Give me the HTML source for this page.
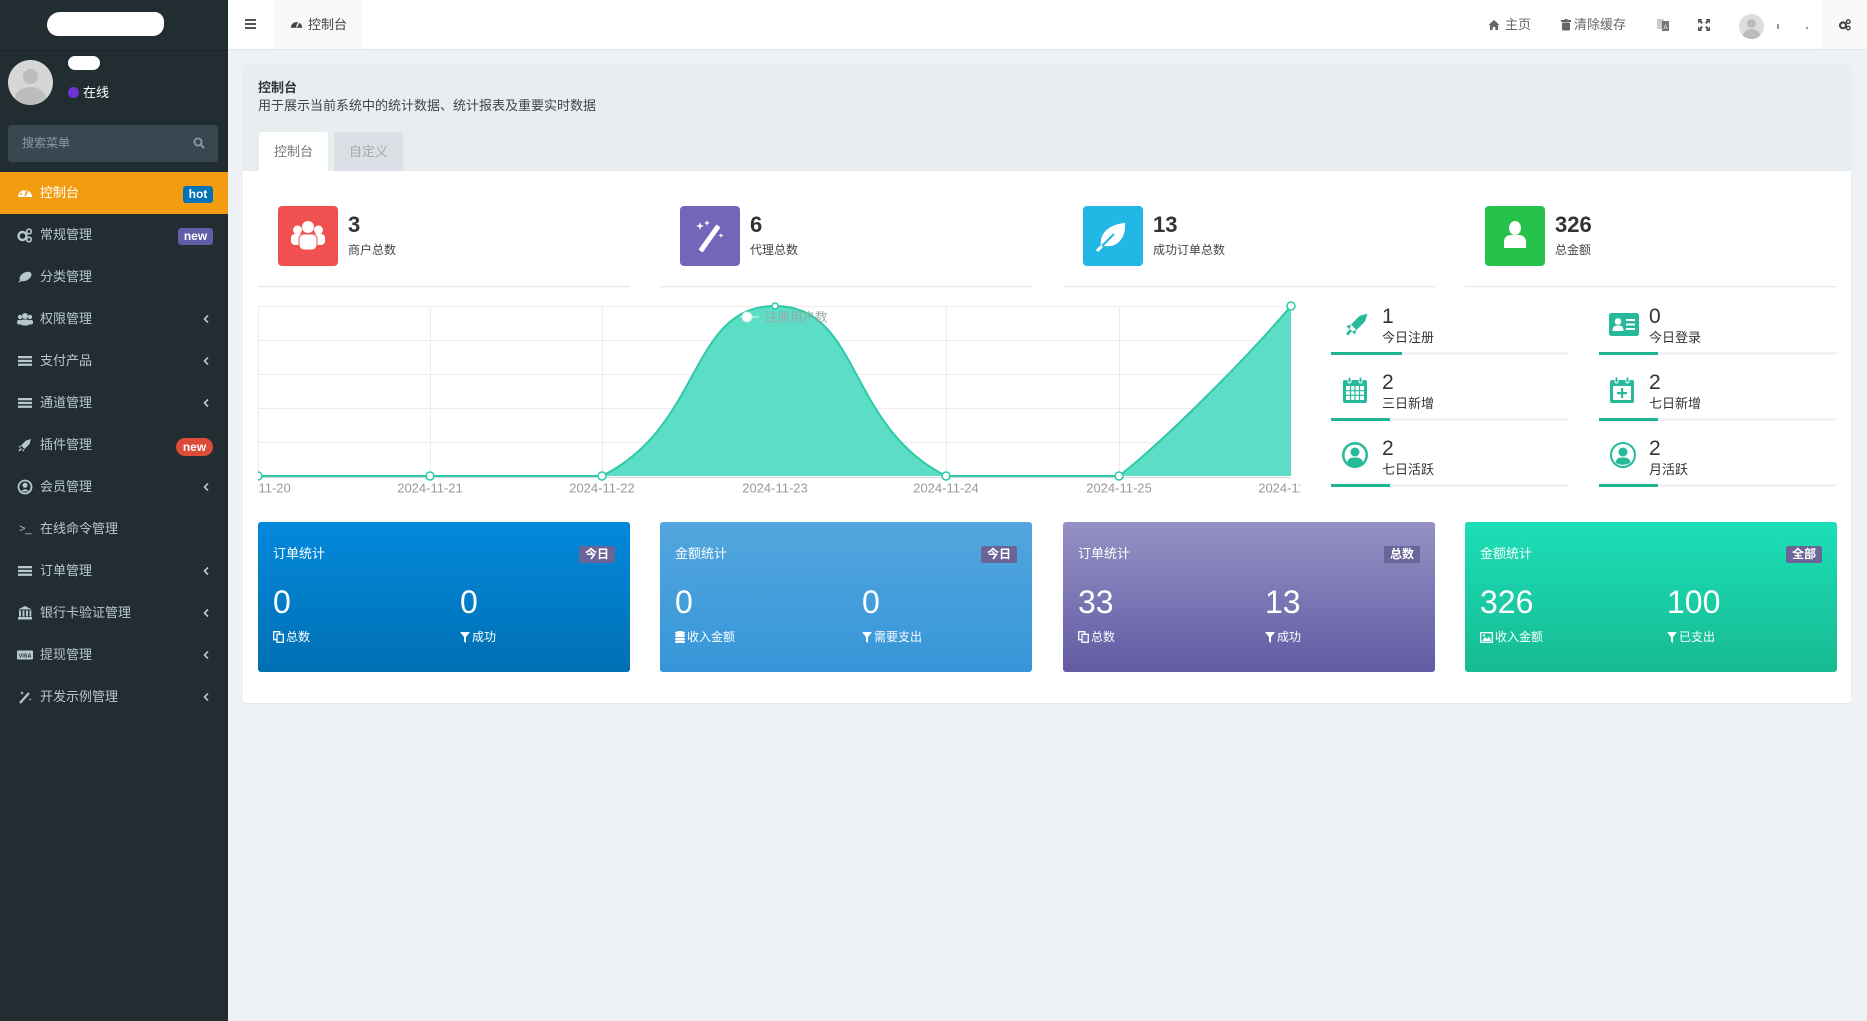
<!DOCTYPE html>
<html lang="zh"><head><meta charset="utf-8"><title>控制台</title>
<style>
*{margin:0;padding:0;box-sizing:border-box}
html,body{width:1867px;height:1021px;overflow:hidden}
body{background:#eef1f5;font-family:"Liberation Sans","Noto Sans CJK SC",sans-serif;position:relative;color:#333}
.a{position:absolute}
.t{position:absolute;white-space:nowrap}
.mi{position:absolute;left:40px;height:42px;line-height:42px;font-size:13px;color:#b8c7ce;white-space:nowrap}
.ic{position:absolute;left:17px;width:16px;height:16px}
.chev{position:absolute;left:202px;width:8px;height:10px}
.bdg{position:absolute;height:17px;line-height:17px;font-size:12px;font-weight:bold;color:#fff;text-align:center;border-radius:3px}
.sbox{position:absolute;top:206px;width:60px;height:60px;border-radius:4px}
.snum{position:absolute;top:210px;line-height:30px;font-size:22px;font-weight:bold;color:#333}
.slab{position:absolute;top:240px;line-height:20px;font-size:12px;color:#444;white-space:nowrap}
.sline{position:absolute;top:286px;width:372px;height:1px;background:#e8e8e8;box-shadow:0 1px 1px rgba(0,0,0,0.04)}
.rn{position:absolute;line-height:26px;font-size:21px;color:#333}
.rl{position:absolute;line-height:20px;font-size:13px;color:#333;white-space:nowrap}
.trk{position:absolute;height:3px;background:#f3f3f3;width:238px}
.trk i{display:block;height:3px;background:#1fb592}
.card{position:absolute;top:522px;width:372px;height:150px;border-radius:3px;color:#fff}
.card .ct{position:absolute;left:15px;top:22px;line-height:20px;font-size:13px;white-space:nowrap}
.card .cb{position:absolute;right:15px;top:24px;width:36px;height:17px;line-height:17px;font-size:12px;font-weight:bold;text-align:center;background:#696598;border-radius:2px}
.card .cn{position:absolute;top:60px;line-height:40px;font-size:32px;font-weight:300}
.card .cl{position:absolute;top:105px;line-height:20px;font-size:12px;white-space:nowrap}
.card .cl svg{vertical-align:-2px;margin-right:2px}
.hdr{position:absolute;top:0;line-height:50px;font-size:13px;color:#666;white-space:nowrap}
</style></head><body>

<!-- Sidebar -->
<div class="a" style="left:0;top:0;width:228px;height:1021px;background:#222d32"></div>
<div class="a" style="left:0;top:50px;width:228px;height:1px;background:#1b2428"></div>
<div class="a" style="left:47px;top:12px;width:117px;height:24px;background:#fff;border-radius:14px 10px 12px 12px"></div>
<!-- user panel -->
<div class="a" style="left:8px;top:60px;width:45px;height:45px;border-radius:50%;background:#d6d6d6;overflow:hidden">
  <div class="a" style="left:15px;top:9px;width:15px;height:15px;border-radius:50%;background:#bdbdbd"></div>
  <div class="a" style="left:7px;top:27px;width:31px;height:22px;border-radius:50%;background:#bdbdbd"></div>
</div>
<div class="a" style="left:68px;top:56px;width:32px;height:14px;background:#fff;border-radius:7px"></div>
<div class="a" style="left:68px;top:87px;width:11px;height:11px;border-radius:50%;background:#6f35d3"></div>
<div class="t" style="left:83px;top:83px;line-height:20px;font-size:13px;color:#fff">在线</div>
<!-- search -->
<div class="a" style="left:8px;top:125px;width:210px;height:37px;background:#374850;border-radius:3px"></div>
<div class="t" style="left:22px;top:133px;line-height:20px;font-size:12px;color:#8b9ba3">搜索菜单</div>
<svg class="a" style="left:193px;top:137px" width="12" height="12" viewBox="0 0 12 12"><circle cx="5" cy="5" r="3.6" fill="none" stroke="#8b9ba3" stroke-width="1.8"/><line x1="7.6" y1="7.6" x2="11" y2="11" stroke="#8b9ba3" stroke-width="2"/></svg>

<!-- menu -->
<div class="a" style="left:0;top:172px;width:228px;height:42px;background:#f39c12"></div>

<!-- 0 控制台 -->
<svg class="ic" style="top:185px" viewBox="0 0 16 16"><path d="M1 12 A7 7 0 1 1 15 12 Z" fill="#fff"/><line x1="8" y1="11" x2="11" y2="5" stroke="#f39c12" stroke-width="1.6"/><circle cx="4" cy="9" r="1" fill="#f39c12"/><circle cx="8" cy="5" r="1" fill="#f39c12"/></svg>
<div class="mi" style="top:172px;color:#fff">控制台</div>
<div class="bdg" style="left:183px;top:186px;width:30px;background:#0073b7">hot</div>

<!-- 1 常规管理 -->
<svg class="ic" style="top:227px" viewBox="0 0 16 16"><circle cx="5.5" cy="9" r="4" fill="none" stroke="#b8c7ce" stroke-width="2.4"/><circle cx="12" cy="4.5" r="2.3" fill="none" stroke="#b8c7ce" stroke-width="1.6"/><circle cx="12" cy="12.5" r="2.3" fill="none" stroke="#b8c7ce" stroke-width="1.6"/></svg>
<div class="mi" style="top:214px">常规管理</div>
<div class="bdg" style="left:178px;top:228px;width:35px;background:#605ca8">new</div>

<!-- 2 分类管理 -->
<svg class="ic" style="top:269px" viewBox="0 0 16 16"><ellipse cx="8.5" cy="7.5" rx="6.5" ry="4" transform="rotate(-30 8.5 7.5)" fill="#b8c7ce"/><line x1="2" y1="13" x2="8" y2="8" stroke="#b8c7ce" stroke-width="1.3"/></svg>
<div class="mi" style="top:256px">分类管理</div>

<!-- 3 权限管理 -->
<svg class="ic" style="top:311px" viewBox="0 0 16 16"><circle cx="8" cy="5" r="3" fill="#b8c7ce"/><circle cx="3" cy="6" r="2.2" fill="#b8c7ce"/><circle cx="13" cy="6" r="2.2" fill="#b8c7ce"/><rect x="3.5" y="8.5" width="9" height="6" rx="2.5" fill="#b8c7ce"/><rect x="0" y="9" width="5" height="4.5" rx="2" fill="#b8c7ce"/><rect x="11" y="9" width="5" height="4.5" rx="2" fill="#b8c7ce"/></svg>
<div class="mi" style="top:298px">权限管理</div>
<svg class="chev" style="top:314px" viewBox="0 0 8 10"><polyline points="6,1.5 2.5,5 6,8.5" fill="none" stroke="#b8c7ce" stroke-width="1.6"/></svg>

<!-- 4 支付产品 -->
<svg class="ic" style="top:353px" viewBox="0 0 16 16"><rect x="1" y="3" width="14" height="2.3" fill="#b8c7ce"/><rect x="1" y="6.8" width="14" height="2.3" fill="#b8c7ce"/><rect x="1" y="10.6" width="14" height="2.3" fill="#b8c7ce"/></svg>
<div class="mi" style="top:340px">支付产品</div>
<svg class="chev" style="top:356px" viewBox="0 0 8 10"><polyline points="6,1.5 2.5,5 6,8.5" fill="none" stroke="#b8c7ce" stroke-width="1.6"/></svg>

<!-- 5 通道管理 -->
<svg class="ic" style="top:395px" viewBox="0 0 16 16"><rect x="1" y="3" width="14" height="2.3" fill="#b8c7ce"/><rect x="1" y="6.8" width="14" height="2.3" fill="#b8c7ce"/><rect x="1" y="10.6" width="14" height="2.3" fill="#b8c7ce"/></svg>
<div class="mi" style="top:382px">通道管理</div>
<svg class="chev" style="top:398px" viewBox="0 0 8 10"><polyline points="6,1.5 2.5,5 6,8.5" fill="none" stroke="#b8c7ce" stroke-width="1.6"/></svg>

<!-- 6 插件管理 -->
<svg class="ic" style="top:437px" viewBox="0 0 16 16"><path d="M14 2 L9 3.5 L4 8.5 L7.5 12 L12.5 7 Z" fill="#b8c7ce"/><path d="M4 8.5 L1.5 9.5 L3 11 Z M7.5 12 L6.5 14.5 L5 13 Z" fill="#b8c7ce"/><path d="M4.5 11.5 L2 14" stroke="#b8c7ce" stroke-width="1.5"/></svg>
<div class="mi" style="top:424px">插件管理</div>
<div class="bdg" style="left:176px;top:438px;width:37px;height:18px;line-height:18px;background:#dd4b39;border-radius:9px">new</div>

<!-- 7 会员管理 -->
<svg class="ic" style="top:479px" viewBox="0 0 16 16"><circle cx="8" cy="8" r="6.5" fill="none" stroke="#b8c7ce" stroke-width="1.8"/><circle cx="8" cy="6.3" r="2.5" fill="#b8c7ce"/><path d="M3.8 12.5 Q8 8 12.2 12.5" fill="#b8c7ce"/></svg>
<div class="mi" style="top:466px">会员管理</div>
<svg class="chev" style="top:482px" viewBox="0 0 8 10"><polyline points="6,1.5 2.5,5 6,8.5" fill="none" stroke="#b8c7ce" stroke-width="1.6"/></svg>

<!-- 8 在线命令管理 -->
<div class="t" style="left:19px;top:508px;line-height:42px;font-size:11px;color:#b8c7ce">&gt;_</div>
<div class="mi" style="top:508px">在线命令管理</div>

<!-- 9 订单管理 -->
<svg class="ic" style="top:563px" viewBox="0 0 16 16"><rect x="1" y="3" width="14" height="2.3" fill="#b8c7ce"/><rect x="1" y="6.8" width="14" height="2.3" fill="#b8c7ce"/><rect x="1" y="10.6" width="14" height="2.3" fill="#b8c7ce"/></svg>
<div class="mi" style="top:550px">订单管理</div>
<svg class="chev" style="top:566px" viewBox="0 0 8 10"><polyline points="6,1.5 2.5,5 6,8.5" fill="none" stroke="#b8c7ce" stroke-width="1.6"/></svg>

<!-- 10 银行卡验证管理 -->
<svg class="ic" style="top:605px" viewBox="0 0 16 16"><path d="M8 1 L15 4.5 L1 4.5 Z" fill="#b8c7ce"/><rect x="2" y="5.5" width="2" height="6" fill="#b8c7ce"/><rect x="5.5" y="5.5" width="2" height="6" fill="#b8c7ce"/><rect x="9" y="5.5" width="2" height="6" fill="#b8c7ce"/><rect x="12.5" y="5.5" width="1.8" height="6" fill="#b8c7ce"/><rect x="1" y="12" width="14" height="2.5" fill="#b8c7ce"/></svg>
<div class="mi" style="top:592px">银行卡验证管理</div>
<svg class="chev" style="top:608px" viewBox="0 0 8 10"><polyline points="6,1.5 2.5,5 6,8.5" fill="none" stroke="#b8c7ce" stroke-width="1.6"/></svg>

<!-- 11 提现管理 -->
<svg class="ic" style="top:647px" viewBox="0 0 16 16"><rect x="0" y="3.5" width="16" height="9" rx="1" fill="#b8c7ce"/><text x="8" y="10.5" font-size="5.5" font-weight="bold" text-anchor="middle" fill="#222d32" font-family="Liberation Sans, sans-serif">VISA</text></svg>
<div class="mi" style="top:634px">提现管理</div>
<svg class="chev" style="top:650px" viewBox="0 0 8 10"><polyline points="6,1.5 2.5,5 6,8.5" fill="none" stroke="#b8c7ce" stroke-width="1.6"/></svg>

<!-- 12 开发示例管理 -->
<svg class="ic" style="top:689px" viewBox="0 0 16 16"><line x1="3" y1="14" x2="12" y2="4" stroke="#b8c7ce" stroke-width="2.2"/><path d="M5 2 L5.6 3.4 L7 4 L5.6 4.6 L5 6 L4.4 4.6 L3 4 L4.4 3.4 Z" fill="#b8c7ce"/><path d="M13 9 L13.4 10 L14.4 10.4 L13.4 10.8 L13 11.8 L12.6 10.8 L11.6 10.4 L12.6 10 Z" fill="#b8c7ce"/></svg>
<div class="mi" style="top:676px">开发示例管理</div>
<svg class="chev" style="top:692px" viewBox="0 0 8 10"><polyline points="6,1.5 2.5,5 6,8.5" fill="none" stroke="#b8c7ce" stroke-width="1.6"/></svg>

<!-- Header -->
<div class="a" style="left:228px;top:0;width:1639px;height:50px;background:#fff;border-bottom:1px solid #dfe3e7"></div>
<div class="a" style="left:245px;top:19px;width:11px;height:2px;background:#555"></div>
<div class="a" style="left:245px;top:23px;width:11px;height:2px;background:#555"></div>
<div class="a" style="left:245px;top:27px;width:11px;height:2px;background:#555"></div>
<div class="a" style="left:273px;top:0;width:90px;height:49px;background:#f9f9f9"></div>
<svg class="a" style="left:290px;top:18px" width="13" height="13" viewBox="0 0 16 16"><path d="M1 12 A7 7 0 1 1 15 12 Z" fill="#444"/><line x1="8" y1="11" x2="11" y2="5" stroke="#f9f9f9" stroke-width="1.6"/></svg>
<div class="hdr" style="left:308px;color:#444">控制台</div>

<svg class="a" style="left:1488px;top:19px" width="12" height="12" viewBox="0 0 12 12"><path d="M6 1 L11.5 6 L10 6 L10 11 L7.3 11 L7.3 8 L4.7 8 L4.7 11 L2 11 L2 6 L0.5 6 Z" fill="#666"/></svg>
<div class="hdr" style="left:1505px">主页</div>
<svg class="a" style="left:1561px;top:19px" width="10" height="12" viewBox="0 0 10 12"><rect x="0" y="1" width="10" height="2" fill="#666"/><rect x="3.5" y="0" width="3" height="2" fill="#666"/><rect x="1" y="3.5" width="8" height="8" rx="1" fill="#666"/></svg>
<div class="hdr" style="left:1574px">清除缓存</div>
<svg class="a" style="left:1657px;top:18px" width="12" height="14" viewBox="0 0 12 14"><rect x="0" y="1" width="7" height="10" fill="#ccc"/><rect x="5" y="3" width="7" height="10" fill="#777"/><text x="8.5" y="11" font-size="6" fill="#fff" text-anchor="middle" font-family="Liberation Sans, sans-serif">A</text></svg>
<svg class="a" style="left:1698px;top:19px" width="12" height="12" viewBox="0 0 12 12"><path d="M0 0 L4.5 0 L3 1.5 L5 3.5 L3.5 5 L1.5 3 L0 4.5 Z M12 0 L12 4.5 L10.5 3 L8.5 5 L7 3.5 L9 1.5 L7.5 0 Z M0 12 L0 7.5 L1.5 9 L3.5 7 L5 8.5 L3 10.5 L4.5 12 Z M12 12 L7.5 12 L9 10.5 L7 8.5 L8.5 7 L10.5 9 L12 7.5 Z" fill="#555"/></svg>
<div class="a" style="left:1739px;top:14px;width:25px;height:25px;border-radius:50%;background:#ddd;overflow:hidden">
  <div class="a" style="left:8px;top:5px;width:9px;height:9px;border-radius:50%;background:#bbb"></div>
  <div class="a" style="left:4px;top:15px;width:17px;height:14px;border-radius:50%;background:#bbb"></div>
</div>
<div class="a" style="left:1777px;top:24px;width:2px;height:5px;background:#999"></div>
<div class="a" style="left:1806px;top:27px;width:2px;height:2px;background:#999"></div>
<div class="a" style="left:1822px;top:0;width:45px;height:49px;background:#f9f9f9"></div>
<svg class="a" style="left:1838px;top:18px" width="14" height="13" viewBox="0 0 16 16"><circle cx="5.5" cy="9" r="3.6" fill="none" stroke="#444" stroke-width="2.6"/><circle cx="12" cy="4.5" r="2.2" fill="none" stroke="#444" stroke-width="1.7"/><circle cx="12" cy="12.5" r="2.2" fill="none" stroke="#444" stroke-width="1.7"/></svg>

<!-- Panel -->
<div class="a" style="left:243px;top:65px;width:1608px;height:638px;background:#fff;border-radius:3px;box-shadow:0 1px 1px rgba(0,0,0,0.05)"></div>
<div class="a" style="left:243px;top:65px;width:1608px;height:106px;background:#e8edf0;border-radius:3px 3px 0 0"></div>
<div class="t" style="left:258px;top:78px;line-height:20px;font-size:13px;font-weight:bold;color:#333">控制台</div>
<div class="t" style="left:258px;top:96px;line-height:20px;font-size:13px;color:#444">用于展示当前系统中的统计数据、统计报表及重要实时数据</div>
<div class="a" style="left:259px;top:132px;width:69px;height:39px;background:#fff;border-radius:3px 3px 0 0;text-align:center;line-height:39px;font-size:13px;color:#777">控制台</div>
<div class="a" style="left:334px;top:132px;width:69px;height:39px;background:#dae0e6;border-radius:3px 3px 0 0;text-align:center;line-height:39px;font-size:13px;color:#a8a8a8">自定义</div>

<!-- Stat boxes -->
<div class="sline" style="left:258px"></div>
<div class="sline" style="left:660px"></div>
<div class="sline" style="left:1063px"></div>
<div class="sline" style="left:1465px"></div>

<div class="sbox" style="left:278px;background:#f05050">
 <svg width="60" height="60" viewBox="0 0 60 60"><circle cx="30" cy="21" r="6" fill="#fff"/><circle cx="19.5" cy="24" r="4.5" fill="#fff"/><circle cx="40.5" cy="24" r="4.5" fill="#fff"/><rect x="13" y="28" width="13" height="11" rx="4" fill="#fff"/><rect x="34" y="28" width="13" height="11" rx="4" fill="#fff"/><rect x="21" y="28" width="18" height="16" rx="5" fill="#fff" stroke="#f05050" stroke-width="1"/></svg>
</div>
<div class="snum" style="left:348px">3</div>
<div class="slab" style="left:348px">商户总数</div>

<div class="sbox" style="left:680px;background:#7266ba">
 <svg width="60" height="60" viewBox="0 0 60 60"><line x1="22" y1="43" x2="37" y2="22" stroke="#fff" stroke-width="5" stroke-linecap="square"/><path d="M20 16 L21 19 L24 20 L21 21 L20 24 L19 21 L16 20 L19 19 Z" fill="#fff"/><path d="M27 14 L27.8 16.2 L30 17 L27.8 17.8 L27 20 L26.2 17.8 L24 17 L26.2 16.2 Z" fill="#fff"/><path d="M41 27 L41.7 28.8 L43.5 29.5 L41.7 30.2 L41 32 L40.3 30.2 L38.5 29.5 L40.3 28.8 Z" fill="#fff"/></svg>
</div>
<div class="snum" style="left:750px">6</div>
<div class="slab" style="left:750px">代理总数</div>

<div class="sbox" style="left:1083px;background:#23b7e5">
 <svg width="60" height="60" viewBox="0 0 60 60"><path d="M18 40 C16 26 28 18 42 17 C43 30 36 42 22 40 Z" fill="#fff"/><path d="M15 44 L31 28" stroke="#23b7e5" stroke-width="2"/><path d="M14 45 L19 40" stroke="#fff" stroke-width="3"/></svg>
</div>
<div class="snum" style="left:1153px">13</div>
<div class="slab" style="left:1153px">成功订单总数</div>

<div class="sbox" style="left:1485px;background:#27c24c">
 <svg width="60" height="60" viewBox="0 0 60 60"><ellipse cx="30" cy="22" rx="6" ry="7" fill="#fff"/><path d="M19 42 L19 36 C19 30 24 29 26 29 L34 29 C36 29 41 30 41 36 L41 42 Z" fill="#fff"/></svg>
</div>
<div class="snum" style="left:1555px">326</div>
<div class="slab" style="left:1555px">总金额</div>

<!-- Chart -->
<svg class="a" style="left:258px;top:296px" width="1042" height="210" viewBox="258 296 1042 210" font-family="Liberation Sans, Noto Sans CJK SC, sans-serif">
 <g stroke="#ececec" stroke-width="1">
  <line x1="258" y1="306.5" x2="1291" y2="306.5"/>
  <line x1="258" y1="340.5" x2="1291" y2="340.5"/>
  <line x1="258" y1="374.5" x2="1291" y2="374.5"/>
  <line x1="258" y1="408.5" x2="1291" y2="408.5"/>
  <line x1="258" y1="442.5" x2="1291" y2="442.5"/>
  <line x1="258.5" y1="306" x2="258.5" y2="476"/>
  <line x1="430.5" y1="306" x2="430.5" y2="476"/>
  <line x1="602.5" y1="306" x2="602.5" y2="476"/>
  <line x1="775.5" y1="306" x2="775.5" y2="476"/>
  <line x1="946.5" y1="306" x2="946.5" y2="476"/>
  <line x1="1119.5" y1="306" x2="1119.5" y2="476"/>
  <line x1="1290.5" y1="306" x2="1290.5" y2="476"/>
 </g>
 <line x1="258" y1="477.5" x2="1291" y2="477.5" stroke="#d6d6d6"/>
 <path d="M258,476 L602,476 C703,426 689,306 775,306 C861,306 846,426 946,476 L1119,476 C1165,440 1245,360 1291,306 L1291,476 Z" fill="#5cddc6"/>
 <path d="M258,476 L602,476 C703,426 689,306 775,306 C861,306 846,426 946,476 L1119,476 C1165,440 1245,360 1291,306" fill="none" stroke="#2ec9a9" stroke-width="2"/>
 <g fill="#fff" stroke="#2ec9a9" stroke-width="1.5">
  <circle cx="258" cy="476" r="4"/>
  <circle cx="430" cy="476" r="4"/>
  <circle cx="602" cy="476" r="4"/>
  <circle cx="775" cy="306" r="3"/>
  <circle cx="946" cy="476" r="4"/>
  <circle cx="1119" cy="476" r="4"/>
  <circle cx="1291" cy="306" r="4"/>
 </g>
 <line x1="740" y1="317" x2="759" y2="317" stroke="#9fe9da" stroke-width="2"/>
 <circle cx="747" cy="317" r="5" fill="#fff" stroke="#c5f1e8" stroke-width="1"/>
 <text x="765" y="321.5" font-size="12.5" fill="#9aa8a5">注册用户数</text>
 <g font-size="13" fill="#999" text-anchor="middle">
  <text x="258" y="492.5">2024-11-20</text>
  <text x="430" y="492.5">2024-11-21</text>
  <text x="602" y="492.5">2024-11-22</text>
  <text x="775" y="492.5">2024-11-23</text>
  <text x="946" y="492.5">2024-11-24</text>
  <text x="1119" y="492.5">2024-11-25</text>
  <text x="1291" y="492.5">2024-11-26</text>
 </g>
</svg>

<!-- Right stats -->
<!-- row 0 -->
<svg class="a" style="left:1344px;top:312px" width="25" height="25" viewBox="0 0 16 16"><path d="M15 1 L10 2.5 L4.5 8 L8 11.5 L13.5 6 Z" fill="#26b99a"/><path d="M4.5 8 L1.5 9 L3.5 11 Z M8 11.5 L7 14.5 L5 12.5 Z" fill="#26b99a"/><path d="M4.5 11.5 L2 14.5" stroke="#26b99a" stroke-width="1.8"/></svg>
<div class="rn" style="left:1382px;top:304px">1</div>
<div class="rl" style="left:1382px;top:328px">今日注册</div>
<div class="trk" style="left:1331px;top:352px"><i style="width:71px"></i></div>

<svg class="a" style="left:1609px;top:313px" width="30" height="23" viewBox="0 0 30 23"><rect x="0" y="0" width="30" height="23" rx="2.5" fill="#26b99a"/><circle cx="9" cy="8.5" r="3.3" fill="#fff"/><path d="M3.5 18 C3.5 13 6 12.5 9 12.5 C12 12.5 14.5 13 14.5 18 Z" fill="#fff"/><rect x="17" y="6" width="9" height="2" fill="#fff"/><rect x="17" y="10.5" width="9" height="2" fill="#fff"/><rect x="17" y="15" width="9" height="2" fill="#fff"/></svg>
<div class="rn" style="left:1649px;top:304px">0</div>
<div class="rl" style="left:1649px;top:328px">今日登录</div>
<div class="trk" style="left:1599px;top:352px"><i style="width:59px"></i></div>

<!-- row 1 -->
<svg class="a" style="left:1343px;top:377px" width="24" height="26" viewBox="0 0 24 26"><rect x="0" y="3" width="24" height="23" rx="2" fill="#26b99a"/><rect x="5" y="0" width="3" height="6" rx="1.5" fill="#26b99a" stroke="#fff" stroke-width="1"/><rect x="16" y="0" width="3" height="6" rx="1.5" fill="#26b99a" stroke="#fff" stroke-width="1"/><g fill="#fff"><rect x="3" y="9" width="18" height="14"/></g><g stroke="#26b99a" stroke-width="1.2"><line x1="3" y1="13.7" x2="21" y2="13.7"/><line x1="3" y1="18.3" x2="21" y2="18.3"/><line x1="7.5" y1="9" x2="7.5" y2="23"/><line x1="12" y1="9" x2="12" y2="23"/><line x1="16.5" y1="9" x2="16.5" y2="23"/></g></svg>
<div class="rn" style="left:1382px;top:370px">2</div>
<div class="rl" style="left:1382px;top:394px">三日新增</div>
<div class="trk" style="left:1331px;top:418px"><i style="width:59px"></i></div>

<svg class="a" style="left:1610px;top:377px" width="24" height="26" viewBox="0 0 24 26"><rect x="0" y="3" width="24" height="23" rx="2" fill="#26b99a"/><rect x="5" y="0" width="3" height="6" rx="1.5" fill="#26b99a" stroke="#fff" stroke-width="1"/><rect x="16" y="0" width="3" height="6" rx="1.5" fill="#26b99a" stroke="#fff" stroke-width="1"/><rect x="3" y="9" width="18" height="14" fill="#fff"/><rect x="11" y="11" width="2.2" height="10" fill="#26b99a"/><rect x="7" y="15" width="10" height="2.2" fill="#26b99a"/></svg>
<div class="rn" style="left:1649px;top:370px">2</div>
<div class="rl" style="left:1649px;top:394px">七日新增</div>
<div class="trk" style="left:1599px;top:418px"><i style="width:59px"></i></div>

<!-- row 2 -->
<svg class="a" style="left:1342px;top:442px" width="26" height="26" viewBox="0 0 26 26"><circle cx="13" cy="13" r="13" fill="#26b99a"/><circle cx="13" cy="13" r="10.5" fill="#fff"/><circle cx="13" cy="10" r="4.5" fill="#26b99a"/><path d="M5 21 C6 16 9 15.5 13 15.5 C17 15.5 20 16 21 21 C17 24.5 9 24.5 5 21 Z" fill="#26b99a"/></svg>
<div class="rn" style="left:1382px;top:436px">2</div>
<div class="rl" style="left:1382px;top:460px">七日活跃</div>
<div class="trk" style="left:1331px;top:484px"><i style="width:59px"></i></div>

<svg class="a" style="left:1610px;top:442px" width="26" height="26" viewBox="0 0 26 26"><circle cx="13" cy="13" r="12" fill="none" stroke="#26b99a" stroke-width="2"/><circle cx="13" cy="10" r="4.5" fill="#26b99a"/><path d="M5.5 20.5 C6.5 16 9 15.5 13 15.5 C17 15.5 19.5 16 20.5 20.5 C17 23.5 9 23.5 5.5 20.5 Z" fill="#26b99a"/></svg>
<div class="rn" style="left:1649px;top:436px">2</div>
<div class="rl" style="left:1649px;top:460px">月活跃</div>
<div class="trk" style="left:1599px;top:484px"><i style="width:59px"></i></div>

<!-- Bottom cards -->
<div class="card" style="left:258px;background:linear-gradient(#0389dc,#0070b4)">
 <div class="ct">订单统计</div><div class="cb">今日</div>
 <div class="cn" style="left:15px">0</div><div class="cn" style="left:202px">0</div>
 <div class="cl" style="left:15px"><svg width="11" height="12" viewBox="0 0 11 12"><rect x="0.7" y="0.7" width="6" height="8" fill="none" stroke="#fff" stroke-width="1.3"/><rect x="4" y="3.3" width="6.3" height="8" fill="#0279c2" stroke="#fff" stroke-width="1.3"/></svg>总数</div>
 <div class="cl" style="left:202px"><svg width="10" height="11" viewBox="0 0 10 11"><path d="M0 0 L10 0 L6 5 L6 11 L4 9.5 L4 5 Z" fill="#fff"/></svg>成功</div>
</div>
<div class="card" style="left:660px;background:linear-gradient(#53a6de,#3696d8)">
 <div class="ct">金额统计</div><div class="cb">今日</div>
 <div class="cn" style="left:15px">0</div><div class="cn" style="left:202px">0</div>
 <div class="cl" style="left:15px"><svg width="10" height="12" viewBox="0 0 10 12"><ellipse cx="5" cy="2" rx="5" ry="2" fill="#fff"/><rect x="0" y="3.5" width="10" height="2.5" rx="1.2" fill="#fff"/><rect x="0" y="6.7" width="10" height="2.5" rx="1.2" fill="#fff"/><rect x="0" y="9.6" width="10" height="2.4" rx="1.2" fill="#fff"/></svg>收入金额</div>
 <div class="cl" style="left:202px"><svg width="10" height="11" viewBox="0 0 10 11"><path d="M0 0 L10 0 L6 5 L6 11 L4 9.5 L4 5 Z" fill="#fff"/></svg>需要支出</div>
</div>
<div class="card" style="left:1063px;background:linear-gradient(#9591c4,#625ba4)">
 <div class="ct">订单统计</div><div class="cb">总数</div>
 <div class="cn" style="left:15px">33</div><div class="cn" style="left:202px">13</div>
 <div class="cl" style="left:15px"><svg width="11" height="12" viewBox="0 0 11 12"><rect x="0.7" y="0.7" width="6" height="8" fill="none" stroke="#fff" stroke-width="1.3"/><rect x="4" y="3.3" width="6.3" height="8" fill="#7a74b4" stroke="#fff" stroke-width="1.3"/></svg>总数</div>
 <div class="cl" style="left:202px"><svg width="10" height="11" viewBox="0 0 10 11"><path d="M0 0 L10 0 L6 5 L6 11 L4 9.5 L4 5 Z" fill="#fff"/></svg>成功</div>
</div>
<div class="card" style="left:1465px;background:linear-gradient(#1cdfb7,#17ba92)">
 <div class="ct">金额统计</div><div class="cb">全部</div>
 <div class="cn" style="left:15px">326</div><div class="cn" style="left:202px">100</div>
 <div class="cl" style="left:15px"><svg width="13" height="11" viewBox="0 0 13 11"><rect x="0.7" y="0.7" width="11.6" height="9.6" fill="none" stroke="#fff" stroke-width="1.3"/><path d="M2 9 L5 5 L7 7 L9 4.5 L11 9 Z" fill="#fff"/><circle cx="4" cy="3.5" r="1.1" fill="#fff"/></svg>收入金额</div>
 <div class="cl" style="left:202px"><svg width="10" height="11" viewBox="0 0 10 11"><path d="M0 0 L10 0 L6 5 L6 11 L4 9.5 L4 5 Z" fill="#fff"/></svg>已支出</div>
</div>

</body></html>
